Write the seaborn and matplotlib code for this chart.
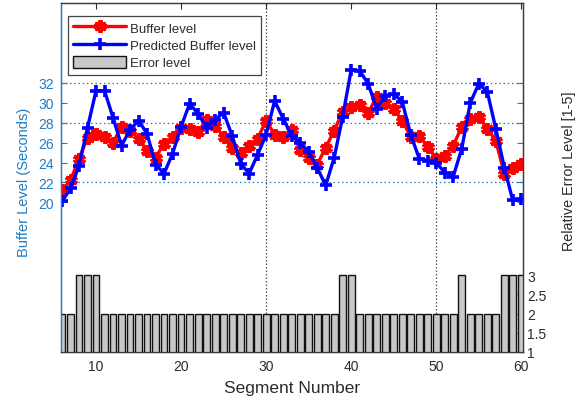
import numpy as np
import pandas as pd
import matplotlib
matplotlib.use("Agg")
import matplotlib.pyplot as plt
import seaborn as sns

# ---------------- data ----------------
segments = list(range(6, 61))
buffer_level = [21.2, 22.2, 24.4, 26.5, 26.9, 26.6, 26.0, 27.6, 27.2, 26.4,
                25.2, 24.5, 25.9, 26.6, 27.5, 27.4, 27.1, 28.3, 27.7, 26.6,
                25.5, 25.0, 25.7, 26.4, 28.2, 26.8, 26.6, 27.3, 25.3, 24.5,
                23.8, 25.5, 27.2, 29.1, 29.6, 29.8, 29.0, 30.6, 30.0, 29.4,
                28.2, 26.6, 26.7, 25.6, 24.4, 24.7, 25.7, 27.6, 28.4, 28.6,
                27.4, 26.2, 22.9, 23.5, 23.9]
predicted_level = [20.1, 21.4, 23.7, 27.5, 31.2, 31.2, 28.5, 25.7, 27.3, 28.2,
                   26.9, 23.8, 22.9, 24.9, 27.6, 29.9, 28.9, 27.5, 28.3, 29.0,
                   26.7, 23.9, 22.9, 24.8, 26.8, 30.2, 28.4, 26.7, 26.0, 25.1,
                   23.5, 21.7, 24.5, 28.6, 33.3, 33.2, 31.9, 29.4, 30.7, 30.9,
                   30.1, 26.8, 24.4, 24.2, 24.0, 23.0, 22.6, 25.4, 30.0, 31.9,
                   31.1, 27.4, 23.5, 20.2, 20.3]
error_level = [2, 2, 3, 3, 3, 2, 2, 2, 2, 2,
               2, 2, 2, 2, 2, 2, 2, 2, 2, 2,
               2, 2, 2, 2, 2, 2, 2, 2, 2, 2,
               2, 2, 2, 3, 3, 2, 2, 2, 2, 2,
               2, 2, 2, 2, 2, 2, 2, 3, 2, 2,
               2, 2, 3, 3, 3]
left_ticks = [20, 22, 24, 26, 28, 30, 32]
right_ticks = [1, 1.5, 2, 2.5, 3]
right_ticklabels = ["1", "1.5", "2", "2.5", "3"]
x_ticks = [10, 20, 30, 40, 50, 60]
ref_levels = [22, 28, 32]
ref_segments = [30, 50]

df = pd.DataFrame({"segment": segments, "buffer": buffer_level,
                   "predicted": predicted_level, "error": error_level})

# ---------------- style ----------------
sns.set_style("white")
plt.rcParams["font.family"] = ["Liberation Sans", "DejaVu Sans"]

BLUE_AX = "#1F7CC4"
DARK = "#2B2B2B"

fig = plt.figure(figsize=(5.77, 4.02), dpi=100)
ax = fig.add_axes([61 / 577, 1 - 353 / 402, 462 / 577, 349 / 402])
ax2 = ax.twinx()

# reference lines
for lv in ref_levels:
    ax.axhline(lv, color=BLUE_AX, lw=0.9, ls=(0, (1.2, 2.2)), zorder=0)
for sg in ref_segments:
    ax.axvline(sg, color="#555555", lw=0.9, ls=(0, (1.2, 1.6)), zorder=0)

# lines
sns.lineplot(data=df, x="segment", y="buffer", ax=ax, color="#FF0000",
             lw=2.4, marker=(6, 2, 0), markersize=9, markeredgewidth=2.9,
             markeredgecolor="#FF0000", label="Buffer level", zorder=3)
sns.lineplot(data=df, x="segment", y="predicted", ax=ax, color="#0000FF",
             lw=2.4, marker="+", markersize=9, markeredgewidth=2.6,
             markeredgecolor="#0000FF", label="Predicted Buffer level", zorder=4)
if ax.get_legend() is not None:
    ax.get_legend().remove()

# bars
sns.barplot(data=df, x="segment", y="error", ax=ax2, native_scale=True,
            color="#C8C8C8", saturation=1, edgecolor="#111111", linewidth=1.0,
            width=0.8, errorbar=None)

# axes limits / ticks
ax.set_xlim(5.88, 60.2)
ax.set_ylim(5, 40)
ax2.set_ylim(1, 10.07)
ax.set_xticks(x_ticks)
ax.set_yticks(left_ticks)
ax2.set_yticks(right_ticks)
ax2.set_yticklabels(right_ticklabels)

ax.tick_params(axis="y", direction="in", length=4, width=0.8, colors=BLUE_AX,
               labelsize=10, pad=5, right=True, labelright=False)
ax.tick_params(axis="x", direction="in", length=4, width=0.8, colors=DARK,
               labelsize=10, pad=5, top=True)
ax2.tick_params(axis="y", direction="in", length=4, width=0.8, colors=DARK,
                labelsize=10, pad=3)
ax2.tick_params(axis="x", bottom=False, top=False, labelbottom=False)

for a in (ax, ax2):
    for s in ("top", "right", "bottom"):
        a.spines[s].set_visible(True)
        a.spines[s].set_color("#3A3A3A")
        a.spines[s].set_linewidth(0.9)
    a.spines["left"].set_visible(True)
    a.spines["left"].set_color(BLUE_AX)
    a.spines["left"].set_linewidth(0.9)

ax.set_xlabel("Segment Number", fontsize=12.5, color=DARK, labelpad=5)
ax.set_ylabel("Buffer Level (Seconds)", fontsize=10.5, color=BLUE_AX)
ax.yaxis.set_label_coords(-0.066, 0.49)
ax2.set_ylabel("Relative Error Level [1-5]", fontsize=10.4, color=DARK)
ax2.yaxis.set_label_coords(1.085, 0.52)
ax2.set_xlabel("")

# legend
handles = [ax.lines[len(ref_levels) + len(ref_segments)],
           ax.lines[len(ref_levels) + len(ref_segments) + 1],
           ax2.patches[0]]
leg = ax2.legend(handles, ["Buffer level", "Predicted Buffer level", "Error level"],
                 loc="upper left", bbox_to_anchor=(0.015, 0.963), borderaxespad=0,
                 fontsize=9.5, handlelength=4.0, handleheight=1.0, handletextpad=0.3,
                 labelspacing=0.3, borderpad=0.4, fancybox=False, framealpha=1,
                 edgecolor="#444444")
leg.get_frame().set_linewidth(0.9)
for t in leg.get_texts():
    t.set_color(DARK)

fig.savefig("out.png", dpi=100)
